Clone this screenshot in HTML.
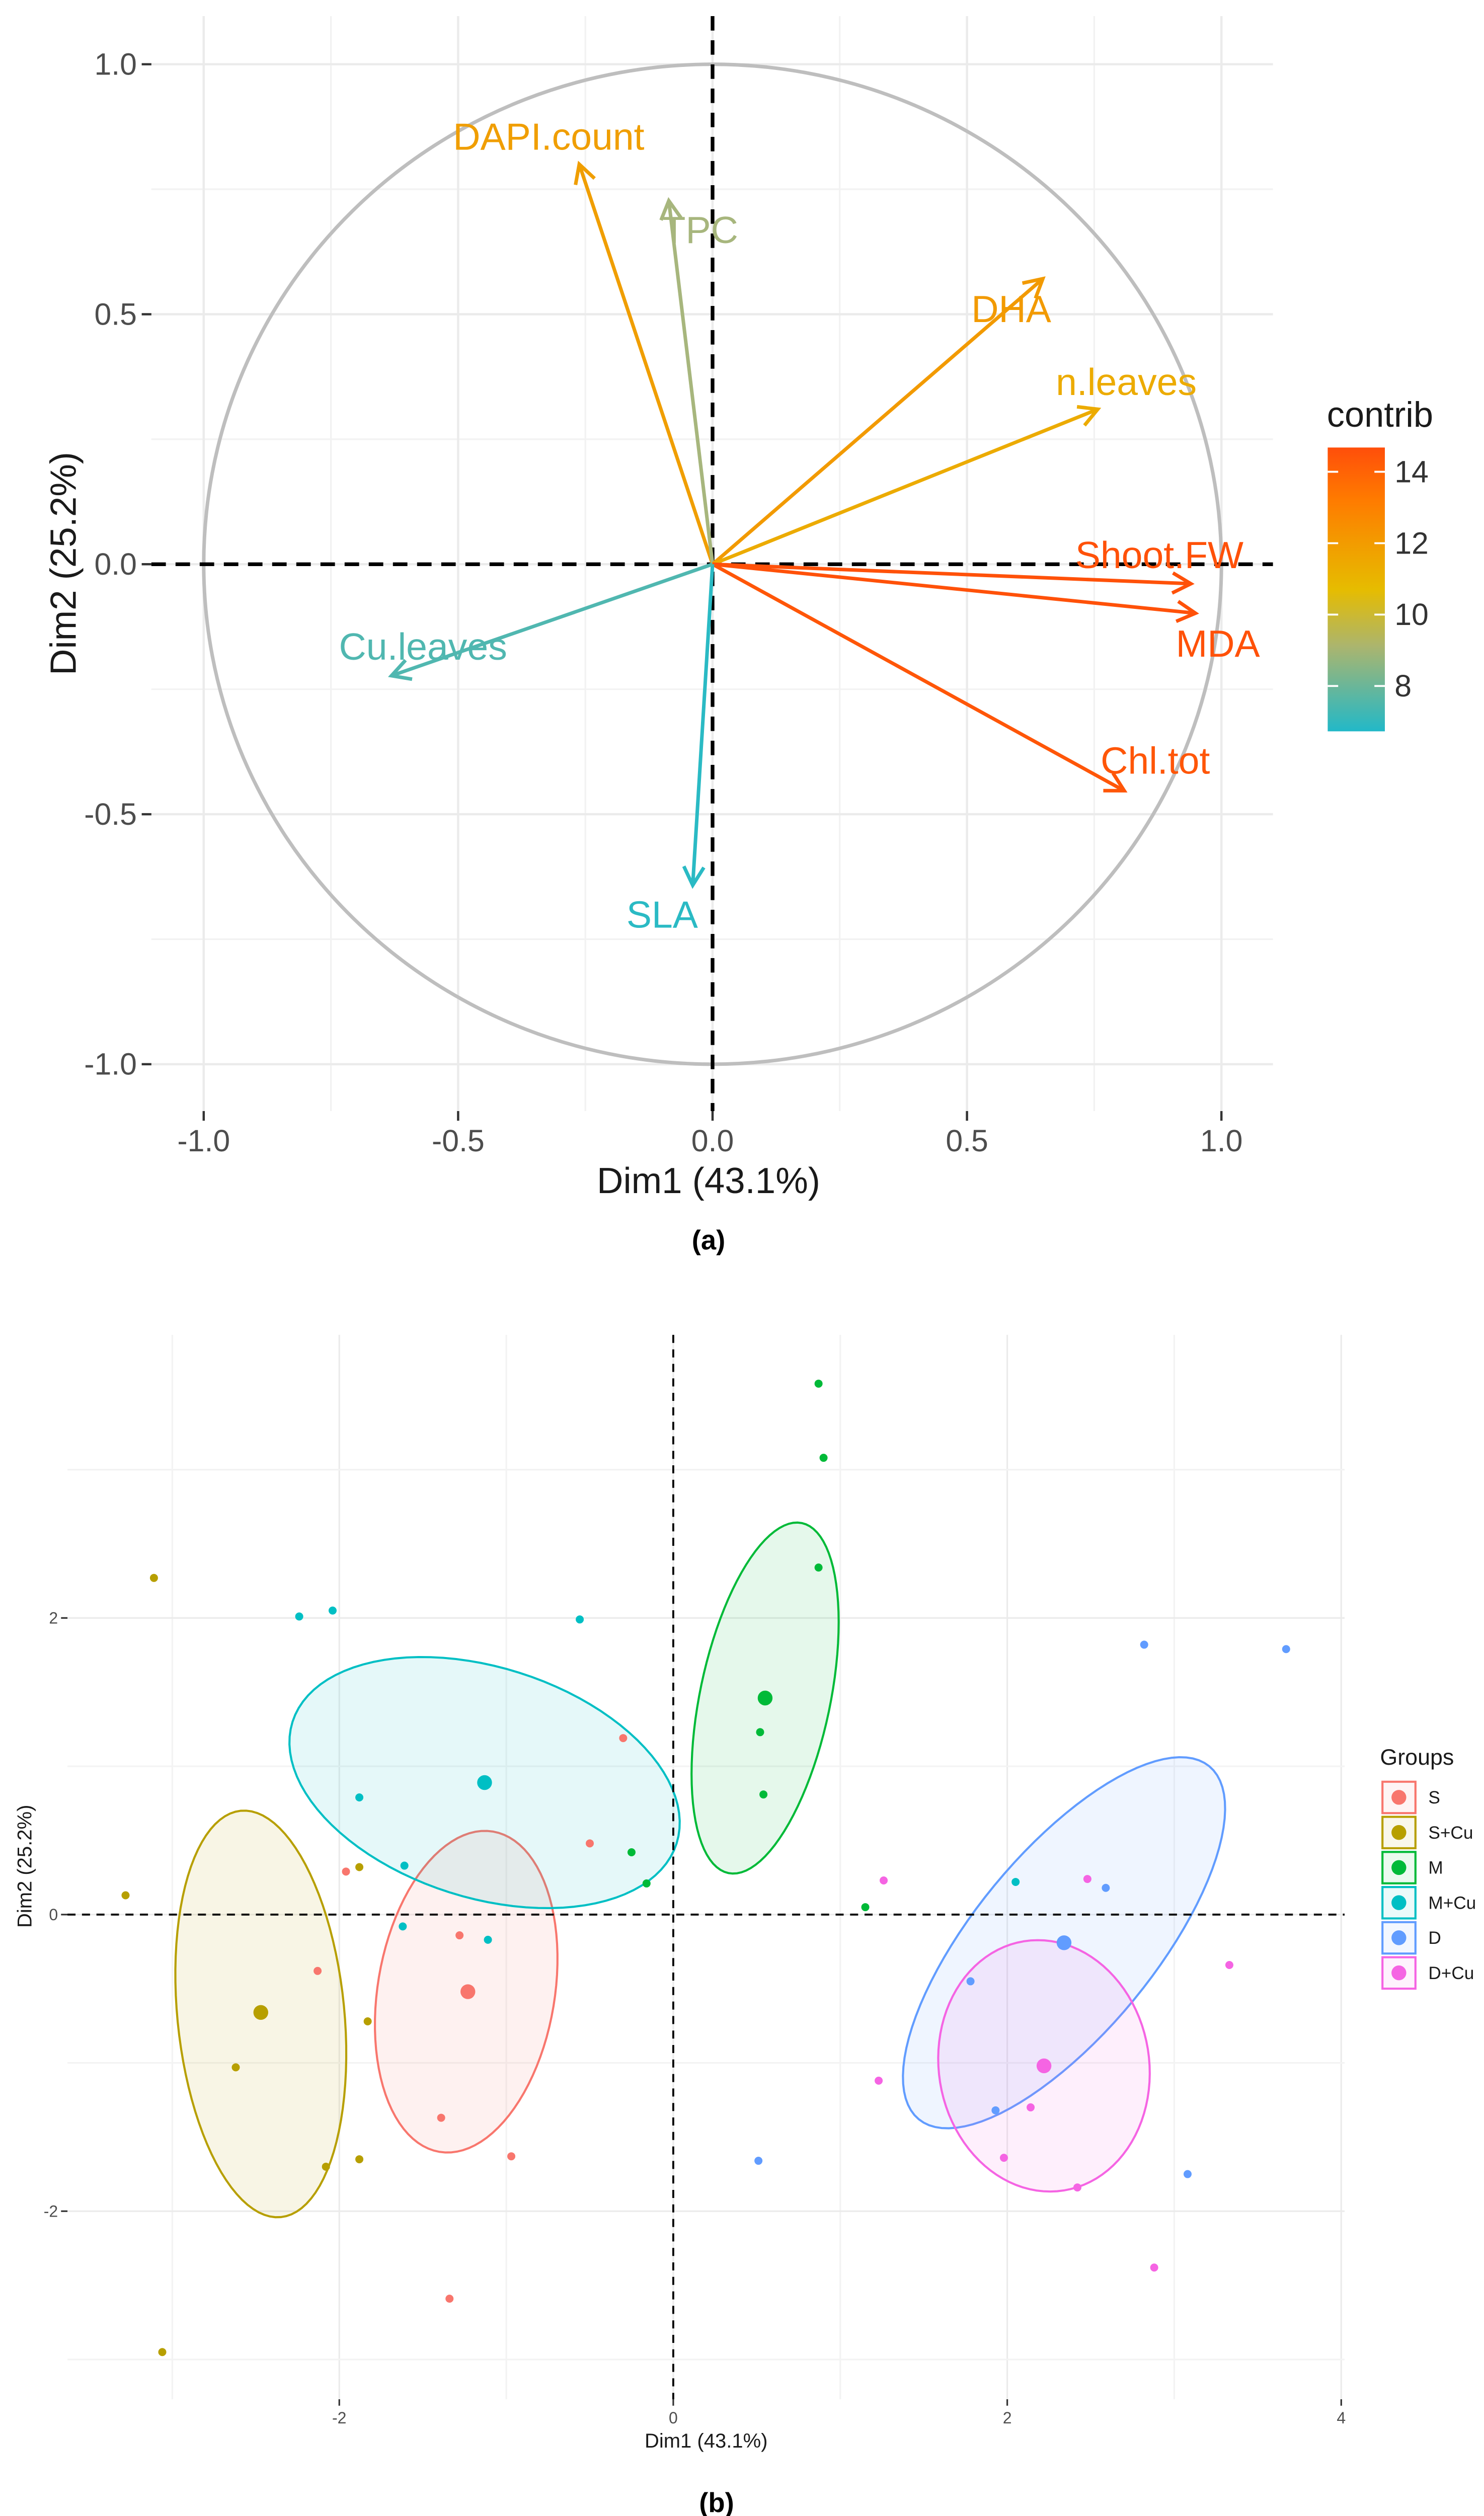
<!DOCTYPE html>
<html><head><meta charset="utf-8">
<style>
html,body{margin:0;padding:0;background:#fff;width:2949px;height:5036px;overflow:hidden;}
#wrap{position:absolute;left:0;top:0;width:2949px;height:5036px;overflow:hidden;}
svg{display:block;}
text{font-family:"Liberation Sans",sans-serif;}
</style></head>
<body>
<div id="wrap">
<svg id="fig" xmlns="http://www.w3.org/2000/svg" width="2949" height="5036" viewBox="0 0 921.5625 1573.75">
<rect x="0" y="0" width="921.5625" height="1573.75" fill="#fff"/>
<defs>
<linearGradient id="cgrad" x1="0" y1="0" x2="0" y2="1">
<stop offset="0" stop-color="#FF4E0A"/>
<stop offset="0.18" stop-color="#FF7A00"/>
<stop offset="0.33" stop-color="#F39A00"/>
<stop offset="0.5" stop-color="#E6BC00"/>
<stop offset="0.7" stop-color="#ABB56E"/>
<stop offset="1" stop-color="#22B8C8"/>
</linearGradient>
</defs>
<g id="panelA"></g>
<g id="panelB"></g>
</svg>
</div>
<script>
// ---------- Panel (a) data ----------
const varNames = ["DAPI.count","TPC","DHA","n.leaves","Shoot.FW","MDA","Chl.tot","SLA","Cu.leaves"];
const varX = [-0.262,-0.086,0.649,0.757,0.94,0.949,0.809,-0.039,-0.631];
const varY = [0.80,0.727,0.571,0.31,-0.039,-0.098,-0.453,-0.642,-0.223];
const varContrib = [11.6,8.4,11.8,10.9,14.6,14.6,14.4,6.8,7.3];
const labelX = [-0.322,-0.024,0.587,0.813,0.878,0.993,0.87,-0.099,-0.569];
const labelY = [0.855,0.668,0.51,0.364,0.018,-0.159,-0.393,-0.701,-0.165];
const aTicks = [-1.0,-0.5,0.0,0.5,1.0];
const aTickLabels = ["-1.0","-0.5","0.0","0.5","1.0"];
const contribTicks = [8,10,12,14];

// ---------- Panel (b) data ----------
const groupNames = ["S","S+Cu","M","M+Cu","D","D+Cu"];
const groupColors = ["#F8766D","#B79F00","#00BA38","#00BFC4","#619CFF","#F564E3"];
const sX = [-0.30,-0.50,-1.96,-1.28,-2.13,-1.39,-0.97,-1.34];
const sY = [1.19,0.48,0.29,-0.14,-0.38,-1.37,-1.63,-2.59];
const scuX = [-3.11,-3.28,-1.88,-1.83,-2.62,-2.08,-1.88,-3.06];
const scuY = [2.27,0.13,0.32,-0.72,-1.03,-1.70,-1.65,-2.95];
const mX = [0.87,0.90,0.87,0.52,0.54,1.15,-0.25,-0.16];
const mY = [3.58,3.08,2.34,1.23,0.81,0.05,0.42,0.21];
const mcuX = [-2.24,-2.04,-0.56,-1.88,-1.61,-1.62,-1.11,2.05];
const mcuY = [2.01,2.05,1.99,0.79,0.33,-0.08,-0.17,0.22];
const dX = [2.82,3.67,2.59,1.78,1.93,0.51,3.08];
const dY = [1.82,1.79,0.18,-0.45,-1.32,-1.66,-1.75];
const dcuX = [1.26,2.48,3.33,1.23,2.14,1.98,2.42,2.88];
const dcuY = [0.23,0.24,-0.34,-1.12,-1.30,-1.64,-1.84,-2.38];
const meanX = [-1.23,-2.47,0.55,-1.13,2.34,2.22];
const meanY = [-0.52,-0.66,1.46,0.89,-0.19,-1.02];
const ellCX = [-1.24,-2.47,0.55,-1.13,2.34,2.22];
const ellCY = [-0.52,-0.67,1.46,0.89,-0.19,-1.02];
const ellAX = [0.16,-0.12,0.22,1.15,0.87,-0.12];
const ellAY = [1.08,1.37,1.18,-0.41,1.19,0.84];
const ellB = [0.53,0.50,0.39,0.69,0.54,0.63];
const bXTicks = [-2,0,2,4];
const bYTicks = [-2,0,2];
const bXGrid = [-3,-2,-1,0,1,2,3,4];
const bYGrid = [-3,-2,-1,0,1,2,3];

const NS = "http://www.w3.org/2000/svg";
function mk(tag, attrs, parent){
  const e = document.createElementNS(NS, tag);
  for (const k in attrs) e.setAttribute(k, attrs[k]);
  parent.appendChild(e);
  return e;
}

// ================= Panel A =================
const A = document.getElementById("panelA");
const axL=94, axR=790.5, axT=10, axB=690;
function ax(v){ return 442.5 + v*316; }
function ay(v){ return 350.4 - v*310.5; }

[-0.75,-0.25,0.25,0.75].forEach(v=>{
  let l=mk("line",{x1:ax(v),x2:ax(v),y1:axT,y2:axB,stroke:"#F2F2F2","stroke-width":1},A);
  
  
  let h=mk("line",{x1:axL,x2:axR,y1:ay(v),y2:ay(v),stroke:"#F2F2F2","stroke-width":1},A);
  
  
});
aTicks.forEach((v,i)=>{
  let l=mk("line",{x1:ax(v),x2:ax(v),y1:axT,y2:axB,stroke:"#EBEBEB","stroke-width":1.4},A);
  
  
  let h=mk("line",{x1:axL,x2:axR,y1:ay(v),y2:ay(v),stroke:"#EBEBEB","stroke-width":1.4},A);
  
  
  let t=mk("line",{x1:88,x2:94,y1:ay(v),y2:ay(v),stroke:"#333","stroke-width":1.4},A);
  
  
  let tx=mk("line",{x1:ax(v),x2:ax(v),y1:axB,y2:axB+6,stroke:"#333","stroke-width":1.4},A);
  
  
  let yl=mk("text",{x:85,y:ay(v)+6.5,"text-anchor":"end","font-size":19,fill:"#4D4D4D"},A);
  yl.textContent=aTickLabels[i];
  
  
  let xl=mk("text",{x:ax(v),y:715,"text-anchor":"middle","font-size":19,fill:"#4D4D4D"},A);
  xl.textContent=aTickLabels[i];
  
  
});
let circ=mk("ellipse",{cx:ax(0),cy:ay(0),rx:316,ry:310.5,fill:"none",stroke:"#BEBEBE","stroke-width":2.2},A);


let hz=mk("line",{x1:axL,x2:axR,y1:ay(0),y2:ay(0),stroke:"#000","stroke-width":2.3,"stroke-dasharray":"9,6"},A);


let vz=mk("line",{x1:ax(0),x2:ax(0),y1:axT,y2:axB,stroke:"#000","stroke-width":2.3,"stroke-dasharray":"9,6"},A);



const cStops=[[6.7,[34,186,200]],[7.5,[95,182,168]],[8.5,[175,182,120]],[10,[230,188,0]],[12,[243,150,0]],[13.5,[255,110,0]],[14.7,[255,78,10]]];
function ccol(v){
  if(v<=cStops[0][0]) return "rgb("+cStops[0][1].join(",")+")";
  for(let i=1;i<cStops.length;i++){
    if(v<=cStops[i][0]){
      const t=(v-cStops[i-1][0])/(cStops[i][0]-cStops[i-1][0]);
      const c=cStops[i-1][1].map((a,j)=>Math.round(a+(cStops[i][1][j]-a)*t));
      return "rgb("+c.join(",")+")";
    }
  }
  return "rgb("+cStops[cStops.length-1][1].join(",")+")";
}
varNames.forEach((n,i)=>{
  const g=mk("g",{},A);
  
  
  const col=ccol(varContrib[i]);
  const x0=ax(0),y0=ay(0),x1=ax(varX[i]),y1=ay(varY[i]);
  mk("line",{x1:x0,y1:y0,x2:x1,y2:y1,stroke:col,"stroke-width":2.2},g);
  const ang=Math.atan2(y1-y0,x1-x0), L=13, sp=0.5;
  const p1=[x1-L*Math.cos(ang-sp),y1-L*Math.sin(ang-sp)];
  const p2=[x1-L*Math.cos(ang+sp),y1-L*Math.sin(ang+sp)];
  mk("polyline",{points:p1.join(",")+" "+x1+","+y1+" "+p2.join(","),fill:"none",stroke:col,"stroke-width":2.2},g);
  const t=mk("text",{x:ax(labelX[i]),y:ay(labelY[i])+8,"text-anchor":"middle","font-size":23.5,fill:col},g);
  t.textContent=n;
});
let xt=mk("text",{x:440,y:741,"text-anchor":"middle","font-size":22.7,fill:"#1a1a1a"},A);
xt.textContent="Dim1 (43.1%)";


let yt=mk("text",{x:0,y:0,"text-anchor":"middle","font-size":22.7,fill:"#1a1a1a",transform:"translate(47,350) rotate(-90)"},A);
yt.textContent="Dim2 (25.2%)";


let ca=mk("text",{x:440,y:776,"text-anchor":"middle","font-size":17,"font-weight":"bold",fill:"#000","font-family":"Liberation Serif, serif"},A);
ca.textContent="(a)";


const lg=mk("g",{},A);


let lt=mk("text",{x:824,y:265,"font-size":22,fill:"#1a1a1a"},lg);
lt.textContent="contrib";
function cy(v){ return 293 + (14-v)*22.17; }
mk("rect",{x:824.5,y:cy(14.68),width:35.5,height:cy(6.73)-cy(14.68),fill:"url(#cgrad)"},lg);
contribTicks.forEach(v=>{
  mk("line",{x1:824.5,x2:831,y1:cy(v),y2:cy(v),stroke:"#fff","stroke-width":1.2},lg);
  mk("line",{x1:853.5,x2:860,y1:cy(v),y2:cy(v),stroke:"#fff","stroke-width":1.2},lg);
  let tl=mk("text",{x:866,y:cy(v)+6.5,"font-size":19,fill:"#333"},lg);
  tl.textContent=String(v);
  
  
});

// ================= Panel B =================
const B=document.getElementById("panelB");
const bL=41.9,bR=835,bT=829,bB=1490;
function bx(v){ return 418.1 + v*103.7; }
function by(v){ return 1189 - v*92.1; }
bXGrid.forEach(v=>{
  let l=mk("line",{x1:bx(v),x2:bx(v),y1:bT,y2:bB,stroke:(v%2===0?"#EBEBEB":"#F3F3F3"),"stroke-width":1},B);
  
  
});
bYGrid.forEach(v=>{
  let l=mk("line",{x1:bL,x2:bR,y1:by(v),y2:by(v),stroke:(v%2===0?"#EBEBEB":"#F3F3F3"),"stroke-width":1},B);
  
  
});
bXTicks.forEach(v=>{
  mk("line",{x1:bx(v),x2:bx(v),y1:bB,y2:bB+4,stroke:"#333","stroke-width":1},B);
  let t=mk("text",{x:bx(v),y:1505,"text-anchor":"middle","font-size":10,fill:"#4D4D4D"},B);
  t.textContent=String(v);
  
  
});
bYTicks.forEach(v=>{
  mk("line",{x1:bL-4,x2:bL,y1:by(v),y2:by(v),stroke:"#333","stroke-width":1},B);
  let t=mk("text",{x:36,y:by(v)+3.5,"text-anchor":"end","font-size":10,fill:"#4D4D4D"},B);
  t.textContent=String(v);
  
  
});
groupNames.forEach((g,i)=>{
  const cxp=bx(ellCX[i]), cyp=by(ellCY[i]);
  const axp=ellAX[i]*103.7, ayp=-ellAY[i]*92.1;
  const al=Math.hypot(axp,ayp);
  const ux=-ayp/al, uy=axp/al, bp=ellB[i]*103.7;
  let pts=[];
  for(let k=0;k<96;k++){
    const t=k/96*2*Math.PI;
    pts.push((cxp+axp*Math.cos(t)+ux*bp*Math.sin(t)).toFixed(2)+","+(cyp+ayp*Math.cos(t)+uy*bp*Math.sin(t)).toFixed(2));
  }
  const e=mk("polygon",{points:pts.join(" "),fill:groupColors[i],"fill-opacity":0.1,stroke:groupColors[i],"stroke-width":1.3},B);
  
  
});
let bh=mk("line",{x1:bL,x2:bR,y1:by(0),y2:by(0),stroke:"#000","stroke-width":1.2,"stroke-dasharray":"5,4"},B);


let bv=mk("line",{x1:bx(0),x2:bx(0),y1:bT,y2:bB,stroke:"#000","stroke-width":1.2,"stroke-dasharray":"5,4"},B);


const gx=[sX,scuX,mX,mcuX,dX,dcuX], gy=[sY,scuY,mY,mcuY,dY,dcuY];
groupNames.forEach((g,i)=>{
  gx[i].forEach((v,k)=>{
    const c=mk("circle",{cx:bx(v),cy:by(gy[i][k]),r:2.5,fill:groupColors[i]},B);
    
    
  });
  const m=mk("circle",{cx:bx(meanX[i]),cy:by(meanY[i]),r:4.6,fill:groupColors[i]},B);
  
  
});
let bxt=mk("text",{x:438.5,y:1520,"text-anchor":"middle","font-size":12.5,fill:"#1a1a1a"},B);
bxt.textContent="Dim1 (43.1%)";


let byt=mk("text",{x:0,y:0,"text-anchor":"middle","font-size":12.5,fill:"#1a1a1a",transform:"translate(19.5,1159) rotate(-90)"},B);
byt.textContent="Dim2 (25.2%)";


let cb=mk("text",{x:445,y:1560,"text-anchor":"middle","font-size":17,"font-weight":"bold",fill:"#000","font-family":"Liberation Serif, serif"},B);
cb.textContent="(b)";


const bl=mk("g",{},B);


let blt=mk("text",{x:857,y:1096,"font-size":14,fill:"#1a1a1a"},bl);
blt.textContent="Groups";
groupNames.forEach((g,i)=>{
  const y0=1106+i*21.8;
  const it=mk("g",{},bl);
  
  
  mk("rect",{x:858.5,y:y0+0.5,width:20.5,height:19.5,fill:groupColors[i],"fill-opacity":0.08,stroke:groupColors[i],"stroke-width":1.3},it);
  mk("circle",{cx:868.7,cy:y0+10.2,r:4.6,fill:groupColors[i]},it);
  const t=mk("text",{x:887,y:y0+14,"font-size":11,fill:"#1a1a1a"},it);
  t.textContent=g;
});
</script>
</body></html>
